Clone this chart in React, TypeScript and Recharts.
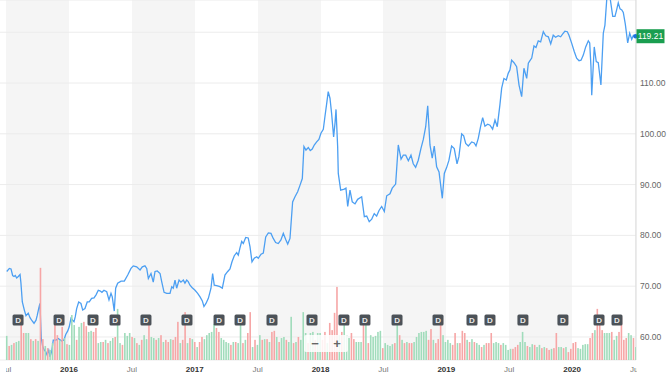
import { ComposedChart, Line, Scatter, XAxis, YAxis, CartesianGrid, ReferenceDot } from 'recharts';

const W = 668;
const H = 376;
const PLOT_LEFT_CLIP = 6;
const PLOT_RIGHT = 636;
const PLOT_BOTTOM = 360;
const FONT = '"Liberation Sans", Arial, sans-serif';

// weekly close, dates as decimal years
const priceDates = [
  2015.505, 2015.526, 2015.539, 2015.552, 2015.563, 2015.573, 2015.584, 2015.597, 2015.611, 2015.618,
  2015.629, 2015.645, 2015.658, 2015.676, 2015.69, 2015.706, 2015.722, 2015.738, 2015.748, 2015.759,
  2015.769, 2015.78, 2015.791, 2015.804, 2015.815, 2015.825, 2015.839, 2015.849, 2015.862, 2015.875,
  2015.897, 2015.915, 2015.942, 2015.96, 2015.974, 2015.99, 2016.002, 2016.016, 2016.029, 2016.04,
  2016.05, 2016.061, 2016.077, 2016.095, 2016.109, 2016.127, 2016.145, 2016.161, 2016.18, 2016.199,
  2016.215, 2016.233, 2016.246, 2016.262, 2016.278, 2016.3, 2016.318, 2016.334, 2016.344, 2016.36,
  2016.371, 2016.387, 2016.414, 2016.44, 2016.467, 2016.493, 2016.511, 2016.538, 2016.565, 2016.583,
  2016.604, 2016.618, 2016.631, 2016.652, 2016.67, 2016.684, 2016.702, 2016.724, 2016.737, 2016.756,
  2016.777, 2016.803, 2016.817, 2016.829, 2016.843, 2016.856, 2016.875, 2016.89, 2016.909, 2016.922,
  2016.936, 2016.948, 2016.962, 2016.98, 2017.002, 2017.023, 2017.042, 2017.06, 2017.073, 2017.089,
  2017.108, 2017.129, 2017.142, 2017.155, 2017.174, 2017.2, 2017.219, 2017.24, 2017.262, 2017.28,
  2017.296, 2017.314, 2017.333, 2017.346, 2017.359, 2017.373, 2017.386, 2017.405, 2017.425, 2017.439,
  2017.455, 2017.473, 2017.492, 2017.505, 2017.527, 2017.545, 2017.564, 2017.585, 2017.606, 2017.624,
  2017.643, 2017.664, 2017.685, 2017.704, 2017.723, 2017.739, 2017.757, 2017.778, 2017.797, 2017.818,
  2017.837, 2017.855, 2017.868, 2017.884, 2017.903, 2017.918, 2017.934, 2017.95, 2017.969, 2017.987,
  2018.003, 2018.022, 2018.035, 2018.049, 2018.061, 2018.075, 2018.088, 2018.104, 2018.115, 2018.123,
  2018.136, 2018.141, 2018.16, 2018.189, 2018.202, 2018.216, 2018.234, 2018.252, 2018.274, 2018.295,
  2018.327, 2018.348, 2018.367, 2018.387, 2018.407, 2018.427, 2018.446, 2018.465, 2018.486, 2018.507,
  2018.526, 2018.552, 2018.57, 2018.597, 2018.618, 2018.64, 2018.658, 2018.677, 2018.698, 2018.719,
  2018.737, 2018.756, 2018.777, 2018.798, 2018.817, 2018.836, 2018.852, 2018.87, 2018.888, 2018.904,
  2018.923, 2018.942, 2018.968, 2018.984, 2019.003, 2019.021, 2019.042, 2019.063, 2019.085, 2019.1,
  2019.122, 2019.138, 2019.154, 2019.175, 2019.202, 2019.222, 2019.236, 2019.254, 2019.273, 2019.289,
  2019.307, 2019.329, 2019.347, 2019.368, 2019.387, 2019.405, 2019.426, 2019.44, 2019.458, 2019.477,
  2019.492, 2019.506, 2019.519, 2019.538, 2019.559, 2019.578, 2019.599, 2019.617, 2019.639, 2019.652,
  2019.665, 2019.679, 2019.697, 2019.713, 2019.731, 2019.75, 2019.771, 2019.79, 2019.811, 2019.83,
  2019.85, 2019.869, 2019.89, 2019.909, 2019.93, 2019.943, 2019.962, 2019.975, 2019.997, 2020.017,
  2020.036, 2020.055, 2020.071, 2020.089, 2020.108, 2020.129, 2020.14, 2020.15, 2020.156, 2020.176,
  2020.192, 2020.208, 2020.229, 2020.248, 2020.261, 2020.275, 2020.293, 2020.323, 2020.341, 2020.354,
  2020.367, 2020.381, 2020.395, 2020.407, 2020.423, 2020.442, 2020.458, 2020.474, 2020.487, 2020.504,
];

const priceValues = [
  72.9, 73.5, 73.4, 72.1, 71.9, 72.1, 71.6, 71.9, 72.3, 70.6,
  66.9, 65.3, 64.2, 64.7, 63.8, 63.2, 62.7, 63.3, 64.3, 65.6,
  66.6, 59.7, 58.1, 57.4, 57.1, 56.5, 57.4, 56.1, 57.1, 59.4,
  59.4, 59.7, 59.2, 59.4, 60.5, 61.2, 62.0, 63.7, 63.3, 63.0,
  64.0, 65.6, 66.9, 66.6, 65.3, 65.6, 66.9, 66.9, 67.6, 67.7,
  68.3, 69.2, 69.1, 68.8, 69.2, 68.9, 67.3, 68.6, 67.9, 65.1,
  69.6, 70.6, 71.0, 71.0, 72.2, 73.5, 74.0, 73.8, 73.2, 73.8,
  74.0, 73.5, 71.5, 72.5, 70.8, 72.9, 73.0, 72.5, 70.9, 68.8,
  68.6, 68.6, 69.9, 69.6, 71.2, 69.6, 71.2, 70.8, 71.2, 70.6,
  71.2, 70.9, 70.2, 69.7, 69.2, 68.6, 67.9, 67.1, 66.0, 66.6,
  67.6, 69.6, 72.5, 70.2, 70.1, 69.9, 69.6, 72.2, 72.9, 73.4,
  74.8, 76.0, 76.6, 76.1, 77.5, 78.8, 78.4, 79.6, 79.5, 77.8,
  74.8, 75.5, 75.8, 75.5, 76.3, 76.5, 79.7, 80.5, 80.4, 79.4,
  78.6, 78.4, 79.1, 80.4, 79.2, 78.3, 79.4, 86.6, 87.6, 88.6,
  89.9, 91.2, 97.5, 96.8, 97.3, 96.7, 97.0, 97.8, 98.4, 98.9,
  100.1, 100.9, 103.4, 106.0, 108.3, 107.0, 104.0, 99.4, 102.1, 104.8,
  97.5, 92.2, 88.9, 89.1, 89.3, 85.7, 88.9, 86.6, 86.2, 87.1,
  87.6, 83.7, 83.8, 82.7, 83.2, 84.3, 83.8, 84.9, 85.7, 84.7,
  87.8, 88.2, 89.3, 90.1, 97.8, 95.0, 95.8, 95.8, 94.7, 95.8,
  94.1, 93.4, 94.8, 97.1, 98.9, 101.4, 105.5, 97.8, 95.2, 97.6,
  93.5, 92.5, 87.3, 92.2, 93.4, 94.8, 97.6, 97.1, 94.1, 95.5,
  100.0, 99.6, 98.1, 97.6, 98.4, 98.2, 97.6, 99.1, 101.5, 103.2,
  101.5, 101.9, 101.7, 100.9, 102.7, 101.4, 105.7, 109.0, 110.9, 110.6,
  111.9, 112.6, 114.5, 114.0, 113.2, 109.6, 107.3, 112.9, 110.9, 113.9,
  114.4, 114.9, 117.3, 117.0, 118.3, 118.1, 120.1, 119.3, 119.1, 117.7,
  119.4, 119.0, 119.3, 119.1, 119.8, 120.2, 120.1, 119.4, 117.8, 116.2,
  114.9, 114.4, 114.5, 115.5, 117.1, 118.3, 117.9, 113.2, 107.6, 117.1,
  114.2, 114.0, 109.6, 119.8, 121.4, 126.3, 128.3, 123.1, 123.1, 124.4,
  125.8, 124.6, 124.4, 123.9, 121.6, 117.9, 119.8, 118.6, 119.4, 119.21,
];

// weekly volume (millions), first week mid 2015
const volStart = 2015.505;
const WEEK = 7 / 365.25;
const volumes = [
  6.7, 3.9, 4.2, 4.7, 5.0, 5.3, 11.7, 7.5, 7.5, 7.5,
  5.8, 5.3, 5.8, 5.3, 25.6, 5.8, 3.9, 3.3, 2.8, 4.7,
  9.7, 6.9, 5.6, 9.2, 6.1, 4.4, 4.2, 12.5, 9.7, 5.6,
  9.2, 10.3, 10.6, 9.4, 7.8, 8.1, 7.8, 8.9, 4.7, 5.0,
  5.0, 5.6, 4.7, 5.3, 6.1, 6.4, 14.2, 4.7, 4.2, 7.5,
  6.7, 7.5, 6.4, 6.1, 4.7, 4.2, 5.6, 6.9, 5.8, 10.6,
  6.4, 6.1, 5.6, 6.1, 6.9, 5.0, 5.6, 5.0, 5.8, 5.6,
  6.4, 10.6, 4.7, 5.6, 13.3, 4.7, 6.1, 5.8, 5.0, 3.6,
  5.0, 6.4, 5.8, 6.9, 7.5, 7.8, 10.0, 8.9, 7.8, 6.1,
  5.6, 5.0, 4.7, 4.2, 5.0, 5.0, 4.7, 12.0, 4.7, 5.6,
  7.5, 13.3, 3.6, 5.6, 4.2, 6.9, 5.6, 5.8, 5.8, 5.0,
  7.8, 8.1, 6.4, 5.0, 6.1, 6.4, 5.6, 5.0, 12.0, 4.7,
  5.0, 6.4, 5.6, 13.3, 7.5, 4.7, 7.5, 7.8, 5.6, 7.5,
  7.5, 5.6, 7.8, 4.7, 10.3, 8.3, 13.1, 20.3, 6.9, 7.8,
  12.5, 6.9, 6.1, 7.5, 5.8, 5.0, 5.0, 5.0, 11.9, 9.7,
  4.7, 6.9, 6.4, 6.7, 7.8, 8.1, 3.3, 4.7, 4.2, 3.9,
  4.4, 4.7, 12.5, 6.9, 5.6, 4.7, 5.0, 4.7, 4.7, 5.0,
  6.4, 7.5, 7.8, 7.8, 8.1, 5.6, 8.6, 5.6, 4.7, 5.8,
  10.3, 6.9, 5.0, 5.6, 4.7, 4.2, 7.5, 4.7, 4.7, 8.1,
  7.5, 5.6, 5.0, 5.8, 5.0, 4.7, 4.2, 3.6, 4.2, 4.7,
  4.7, 7.5, 4.7, 5.0, 4.7, 4.2, 4.7, 4.2, 2.8, 3.1,
  3.1, 3.6, 4.2, 5.0, 7.8, 5.0, 3.9, 3.6, 4.4, 4.2,
  3.6, 4.2, 3.3, 3.6, 3.3, 2.8, 3.1, 3.3, 7.5, 3.6,
  3.6, 3.3, 3.6, 2.2, 3.1, 4.7, 5.0, 3.3, 3.1, 4.2,
  4.4, 4.4, 6.1, 7.5, 8.3, 14.2, 11.1, 8.3, 7.5, 7.5,
  7.5, 7.8, 5.6, 6.7, 7.8, 11.9, 5.6, 6.1, 7.5, 6.9, 6.1, 3.6,
];
// g = up week, r = down week
const volDirs = (
  'grgrggrrgg' + 'rgrgrrgrgg' + 'rrgrgrgggr' + 'ggrrggrrgg' + 'rgrggrggrg' +
  'ggrgrgrggr' + 'ggrgrgrrgr' + 'rrgrrgrgrg' + 'rrgggggrrg' + 'gggrgrggrg' +
  'rrgrggrgrg' + 'rrgrggrggr' + 'grgggrggrg' + 'grrgrrrrgr' + 'gggrrgggrg' +
  'rgggggrggg' + 'grgrgrgrrg' + 'gggggrrgrr' + 'rggggrrgrr' + 'rgrgrggrgr' +
  'rrgggrgggg' + 'rrrgggrggr' + 'ggrgrrgrrg' + 'grgrrrrggg' + 'ggrrgrrrgg' +
  'grggrrrrggrg'
).split('');

const divDates = [
  2015.595, 2015.921, 2016.191, 2016.366, 2016.612, 2016.938, 2017.193, 2017.36, 2017.614, 2017.932,
  2018.186, 2018.353, 2018.608, 2018.934, 2019.204, 2019.347, 2019.609, 2019.927, 2020.214, 2020.357,
];
const DIV_LEVEL = 11.1;

const xTicks = [2015.5, 2016, 2016.5, 2017, 2017.5, 2018, 2018.5, 2019, 2019.5, 2020, 2020.5];
const yTicks = [60, 70, 80, 90, 100, 110, 120];
const lastPrice = 119.21;

const GREEN_BAR = '#a0dcbb';
const RED_BAR = '#f6a6a6';

const volRows = volumes.map((v, i) => ({ t: volStart + i * WEEK, vol: v, up: volDirs[i] === 'g' }));
const priceRows = priceDates.map((t, i) => ({ t, price: priceValues[i] }));
const divRows = divDates.map((t) => ({ t, lvl: DIV_LEVEL }));

function XTick({ x, y, payload }: any) {
  const v = payload.value;
  const isYear = Number.isInteger(v);
  return (
    <svg x={PLOT_LEFT_CLIP} y={0} width={PLOT_RIGHT + 1 - PLOT_LEFT_CLIP} height={H} overflow="hidden">
      <text x={x - PLOT_LEFT_CLIP} y={y + 12} textAnchor="middle" fontSize={8} fontFamily={FONT}
        fontWeight={isYear ? 700 : 400} fill={isYear ? '#333' : '#777'}>
        {isYear ? v : 'Jul'}
      </text>
    </svg>
  );
}

function VolBar({ cx, cy, payload }: any) {
  return <rect x={cx - 0.8} y={cy} width={1.6} height={Math.max(0, PLOT_BOTTOM - cy)} fill={payload.up ? GREEN_BAR : RED_BAR} />;
}

function DivBadge({ cx, cy }: any) {
  return (
    <g>
      <rect x={cx - 5.5} y={cy - 5.5} width={11} height={11} rx={1.5} fill="#4c5258" />
      <text x={cx} y={cy + 3} textAnchor="middle" fontSize={8} fontFamily={FONT} fontWeight={700} fill="#e8e8e8">D</text>
    </g>
  );
}

function PriceTag({ cx, cy }: any) {
  return (
    <g>
      <circle cx={cx} cy={cy} r={2.2} fill="#1c6fe0" />
      <rect x={cx + 1} y={cy - 7} width={28} height={14} fill="#1a9e50" />
      <text x={cx + 15} y={cy + 3} textAnchor="middle" fontSize={8.5} fontFamily={FONT} fill="#fff">
        {lastPrice.toFixed(2)}
      </text>
    </g>
  );
}

export default function App() {
  return (
    <div style={{ position: 'absolute', left: 0, top: 0, width: W, height: H, background: '#fff' }}>
      <ComposedChart width={W} height={H} data={volRows} margin={{ top: 0, right: 0, bottom: 0, left: 0 }}>
        <CartesianGrid horizontal={false} vertical stroke="transparent" verticalFill={['#ffffff', '#f5f5f5']} />
        <CartesianGrid horizontal vertical={false} stroke="#ececec" />
        <XAxis dataKey="t" type="number" domain={[2015.4515, 2020.508]} ticks={xTicks} interval={0}
          allowDataOverflow height={16} axisLine={false} tickLine={false} tickSize={0} tickMargin={0} tick={<XTick />} />
        <YAxis orientation="right" width={32} domain={[55.47, 126.34]} ticks={yTicks} allowDataOverflow
          tickSize={0} tickMargin={4} tickLine={false} axisLine={{ stroke: '#d9d9d9' }}
          tick={{ fontSize: 8.5, fill: '#666', fontFamily: FONT }}
          tickFormatter={(v: number) => (v >= 120 ? '' : v.toFixed(2))} />
        <YAxis yAxisId="vol" hide domain={[0, 100]} allowDataOverflow />
        <Scatter data={volRows} dataKey="vol" yAxisId="vol" shape={<VolBar />} isAnimationActive={false} />
        <Line data={priceRows} dataKey="price" type="linear" stroke="#4c9ff2" strokeWidth={1.3}
          dot={false} activeDot={false} isAnimationActive={false} />
        <Scatter data={divRows} dataKey="lvl" yAxisId="vol" shape={<DivBadge />} isAnimationActive={false} />
        <ReferenceDot x={priceDates[priceDates.length - 1]} y={lastPrice} ifOverflow="visible" shape={<PriceTag />} />
      </ComposedChart>
      <div style={{ position: 'absolute', left: 304, top: 335, width: 44, height: 17, background: 'rgba(255,255,255,0.85)',
        borderRadius: 2, display: 'flex', alignItems: 'center', justifyContent: 'space-around',
        fontFamily: FONT, fontSize: 13, fontWeight: 700, color: '#666', lineHeight: '17px' }}>
        <span>−</span><span>+</span>
      </div>
    </div>
  );
}
